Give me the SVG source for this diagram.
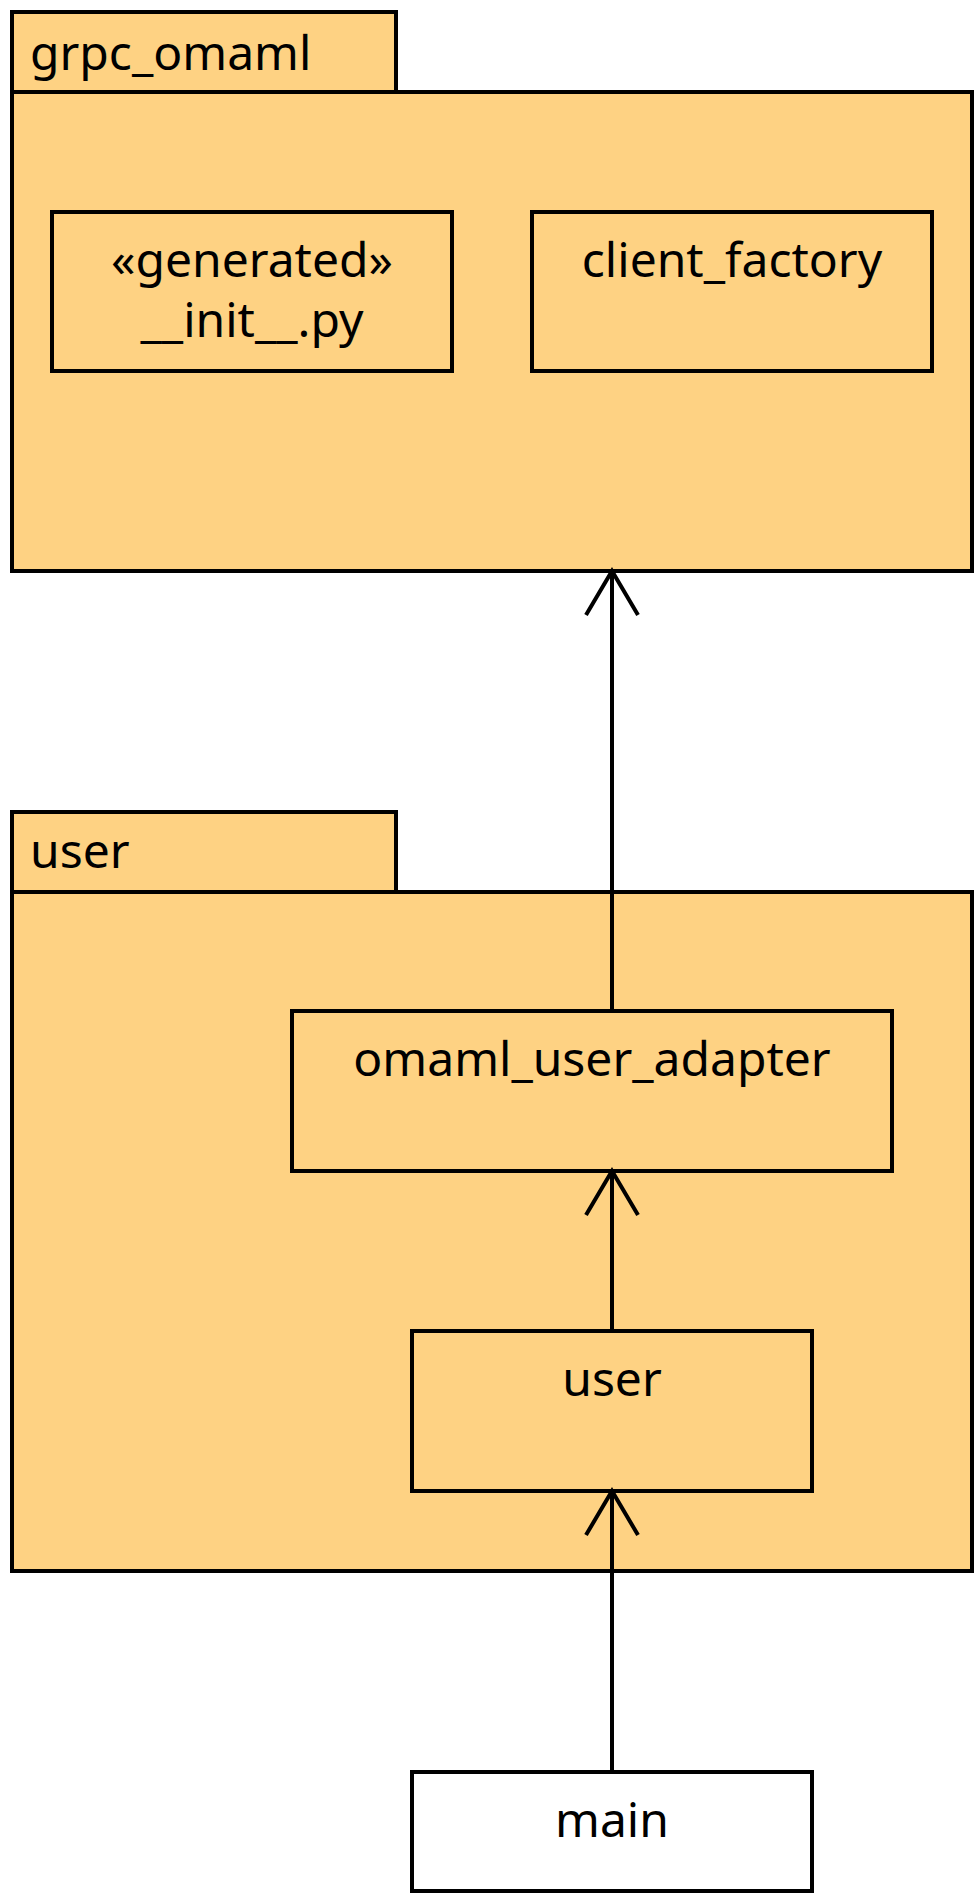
<svg xmlns="http://www.w3.org/2000/svg" width="980" height="1900" viewBox="0 0 980 1900">
<style>
.pkg{fill:#FED283;stroke:#000;stroke-width:4}
.box{fill:#FED283;stroke:#000;stroke-width:4}
.wbox{fill:#FFFFFF;stroke:#000;stroke-width:4}
.t{font-family:"Noto Sans","Open Sans","DejaVu Sans",sans-serif;font-size:48px;fill:#000}
.c{text-anchor:middle}
.edge{fill:none;stroke:#000;stroke-width:4}
</style>
<defs>
<marker id="open" markerUnits="userSpaceOnUse" markerWidth="60" markerHeight="60" refX="0" refY="0" orient="auto" overflow="visible" viewBox="-50 -30 60 60">
<path d="M -44 -26 L 0 0 L -44 26" fill="none" stroke="#000" stroke-width="4"/>
</marker>
</defs>
<rect width="980" height="1900" fill="#FFFFFF"/>
<g id="grpc_omaml">
<rect class="pkg" x="12" y="12" width="384" height="80"/>
<rect class="pkg" x="12" y="92" width="960" height="479"/>
<text class="t" x="30" y="70">grpc_omaml</text>
</g>
<g id="init_py">
<rect class="box" x="52" y="212" width="400" height="159"/>
<text class="t c" x="252" y="277">«generated»</text>
<text class="t c" x="252" y="337">__init__.py</text>
</g>
<g id="client_factory">
<rect class="box" x="532" y="212" width="400" height="159"/>
<text class="t c" x="732" y="277">client_factory</text>
</g>
<g id="user_pkg">
<rect class="pkg" x="12" y="812" width="384" height="80"/>
<rect class="pkg" x="12" y="892" width="960" height="679"/>
<text class="t" x="30" y="868">user</text>
</g>
<g id="omaml_user_adapter">
<rect class="box" x="292" y="1011" width="600" height="160"/>
<text class="t c" x="592" y="1076">omaml_user_adapter</text>
</g>
<g id="user">
<rect class="box" x="412" y="1331" width="400" height="160"/>
<text class="t c" x="612" y="1396">user</text>
</g>
<g id="main">
<rect class="wbox" x="412" y="1772" width="400" height="119"/>
<text class="t c" x="612" y="1837">main</text>
</g>
<g id="connectors">
<line class="edge" x1="612" y1="1011" x2="612" y2="571" marker-end="url(#open)"/>
<line class="edge" x1="612" y1="1331" x2="612" y2="1171" marker-end="url(#open)"/>
<line class="edge" x1="612" y1="1772" x2="612" y2="1491" marker-end="url(#open)"/>
</g>
</svg>
